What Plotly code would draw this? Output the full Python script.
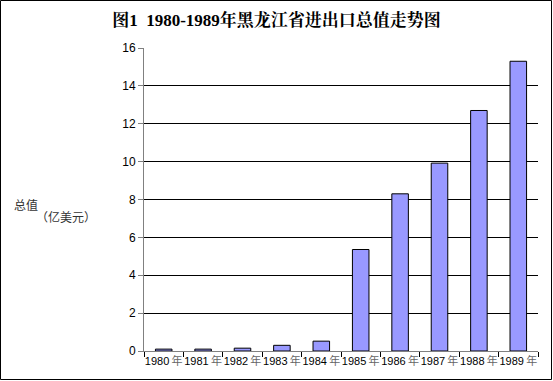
import plotly.graph_objects as go

years = ["1980 年", "1981 年", "1982 年", "1983 年", "1984 年",
         "1985 年", "1986 年", "1987 年", "1988 年", "1989 年"]
values = [0.1, 0.1, 0.15, 0.3, 0.52, 5.36, 8.3, 9.92, 12.7, 15.3]
y_ticks = [0, 2, 4, 6, 8, 10, 12, 14, 16]
title_text = "图1  1980-1989年黑龙江省进出口总值走势图"

W, H = 553, 381
L, R, T, B = 144, 15, 48, 30
pw, ph = W - L - R, H - T - B

tick_text = [y.replace(" 年", "\u2009<span style='color:#666666'>年</span>") for y in years]

fig = go.Figure(go.Bar(
    x=years, y=values,
    marker=dict(color="#9999FF", line=dict(color="#000000", width=1)),
    width=0.42,
))

fig.update_layout(
    width=W, height=H,
    margin=dict(l=L, r=R, t=T, b=B, pad=0),
    paper_bgcolor="white", plot_bgcolor="white",
    showlegend=False,
    font=dict(family="Liberation Sans, Arial, Noto Sans CJK SC", size=12, color="#000000"),
    title=dict(text="<b>" + title_text + "</b>", x=0.5, xanchor="center",
               y=1 - 20 / H, yanchor="middle",
               font=dict(family="Liberation Serif, Noto Serif CJK SC, Noto Sans CJK SC", size=17, color="#000000")),
)

fig.update_yaxes(range=[0, 16], tickvals=y_ticks, showgrid=True, gridcolor="#000000", gridwidth=1,
                 showline=True, linecolor="#808080", linewidth=1, ticks="outside", ticklen=5,
                 tickcolor="#808080", zeroline=False,
                 tickfont=dict(size=12, color="#000000"))
fig.update_xaxes(showline=True, linecolor="#808080", linewidth=1, ticks="outside", ticklen=5,
                 tickcolor="#000000", tickson="boundaries", showgrid=False,
                 tickvals=years, ticktext=tick_text,
                 tickfont=dict(size=11, color="#000000", family="Liberation Sans, Arial, Noto Sans CJK SC"),
                 tickangle=0)

fig.add_annotation(text="总值", xref="paper", yref="paper",
                   x=-(L - 12) / pw, y=(H - B - 205) / ph, xanchor="left", yanchor="middle",
                   showarrow=False, font=dict(size=12, color="#333333", family="Noto Sans CJK SC"))
fig.add_annotation(text="（亿美元）", xref="paper", yref="paper",
                   x=-(L - 34) / pw, y=(H - B - 216) / ph, xanchor="left", yanchor="middle",
                   showarrow=False, font=dict(size=12, color="#333333", family="Noto Sans CJK SC"))

fig.add_shape(type="rect", xref="paper", yref="paper",
              x0=-(L - 0.5) / pw, x1=1 + (R - 1.5) / pw,
              y0=-(B - 1.5) / ph, y1=1 + (T - 0.5) / ph,
              line=dict(color="#000000", width=1), fillcolor="rgba(0,0,0,0)", layer="above")

fig.write_html("out.html", config={"displayModeBar": False},
               post_script="document.body.style.margin='0px';document.body.style.overflow='hidden';")
